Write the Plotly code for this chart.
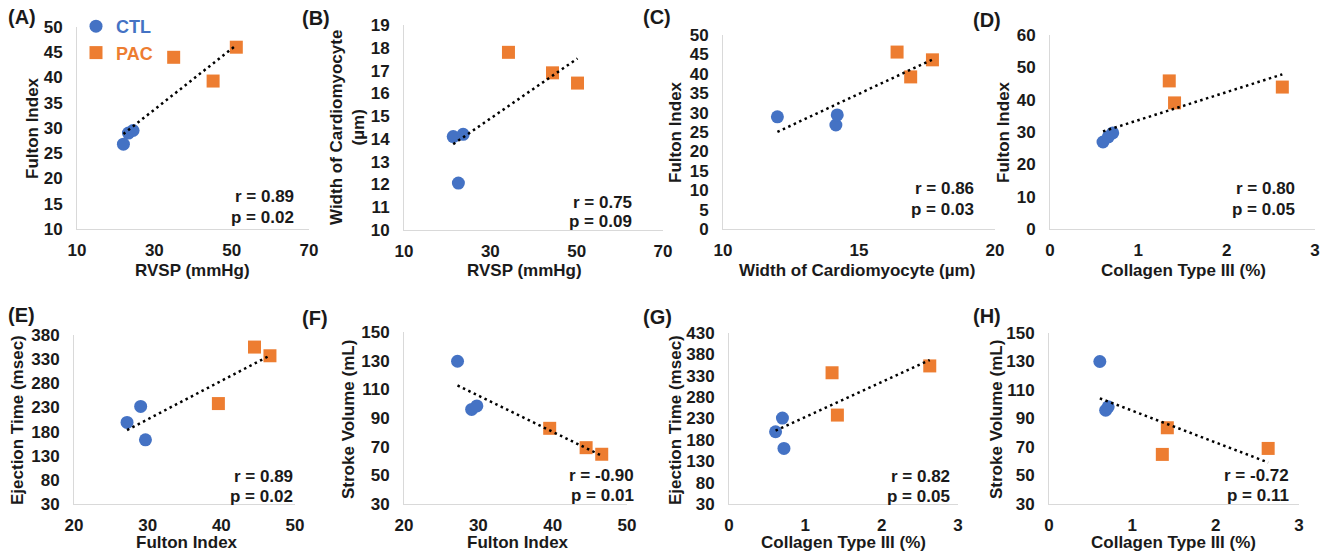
import numpy as np
import plotly.graph_objects as go

W, H = 1328, 554
BLUE = "#4472C4"
ORANGE = "#ED7D31"
FONT = "Liberation Sans, Arial, sans-serif"
TXT = "#1a1a1a"

# ---------------- data ----------------
# (A) RVSP vs Fulton Index
a_ctl_x = [22.0, 23.3, 24.5]
a_ctl_y = [26.8, 29.0, 29.5]
a_pac_x = [35.0, 45.2, 51.2]
a_pac_y = [44.0, 39.3, 46.0]
# (B) RVSP vs Width of Cardiomyocyte
b_ctl_x = [21.4, 23.7, 22.6]
b_ctl_y = [14.1, 14.2, 12.06]
b_pac_x = [34.2, 44.4, 50.2]
b_pac_y = [17.8, 16.9, 16.45]
# (C) Width of Cardiomyocyte vs Fulton Index
c_ctl_x = [12.0, 14.15, 14.2]
c_ctl_y = [28.9, 26.8, 29.4]
c_pac_x = [16.4, 16.9, 17.7]
c_pac_y = [45.6, 39.2, 43.6]
# (D) Collagen Type III vs Fulton Index
d_ctl_x = [0.60, 0.66, 0.71]
d_ctl_y = [26.9, 28.5, 29.7]
d_pac_x = [1.35, 1.41, 2.63]
d_pac_y = [45.8, 39.0, 43.9]
# (E) Fulton Index vs Ejection Time
e_ctl_x = [27.2, 29.05, 29.7]
e_ctl_y = [199, 232, 163]
e_pac_x = [39.6, 44.5, 46.6]
e_pac_y = [238, 355, 337]
# (F) Fulton Index vs Stroke Volume
f_ctl_x = [27.2, 29.1, 29.8]
f_ctl_y = [129.6, 96.0, 98.4]
f_pac_x = [39.6, 44.5, 46.6]
f_pac_y = [82.8, 69.3, 64.7]
# (G) Collagen Type III vs Ejection Time
g_ctl_x = [0.61, 0.70, 0.72]
g_ctl_y = [199, 231, 160]
g_pac_x = [1.35, 1.42, 2.63]
g_pac_y = [337, 238, 353]
# (H) Collagen Type III vs Stroke Volume
h_ctl_x = [0.61, 0.68, 0.71]
h_ctl_y = [130, 95.8, 98.2]
h_pac_x = [1.42, 1.36, 2.63]
h_pac_y = [83.5, 64.8, 69.0]

panel_letters = ["(A)", "(B)", "(C)", "(D)", "(E)", "(F)", "(G)", "(H)"]
x_titles = ["RVSP (mmHg)", "RVSP (mmHg)", "Width of Cardiomyocyte (µm)", "Collagen Type III (%)",
            "Fulton Index", "Fulton Index", "Collagen Type III (%)", "Collagen Type III (%)"]
y_titles = ["Fulton Index", "Width of Cardiomyocyte<br>(µm)", "Fulton Index", "Fulton Index",
            "Ejection Time (msec)", "Stroke Volume (mL)", "Ejection Time (msec)", "Stroke Volume (mL)"]
r_values = ["0.89", "0.75", "0.86", "0.80", "0.89", "-0.90", "0.82", "-0.72"]
p_values = ["0.02", "0.09", "0.03", "0.05", "0.02", "0.01", "0.05", "0.11"]
x_ranges = [(10, 70), (10, 70), (10, 20), (0, 3), (20, 50), (20, 50), (0, 3), (0, 3)]
x_dticks = [20, 20, 5, 1, 10, 10, 1, 1]
y_ranges = [(10, 50), (10, 19), (0, 50), (0, 60), (30, 380), (30, 150), (30, 430), (30, 150)]
y_dticks = [5, 1, 5, 10, 50, 20, 50, 20]

data = [
    (a_ctl_x, a_ctl_y, a_pac_x, a_pac_y),
    (b_ctl_x, b_ctl_y, b_pac_x, b_pac_y),
    (c_ctl_x, c_ctl_y, c_pac_x, c_pac_y),
    (d_ctl_x, d_ctl_y, d_pac_x, d_pac_y),
    (e_ctl_x, e_ctl_y, e_pac_x, e_pac_y),
    (f_ctl_x, f_ctl_y, f_pac_x, f_pac_y),
    (g_ctl_x, g_ctl_y, g_pac_x, g_pac_y),
    (h_ctl_x, h_ctl_y, h_pac_x, h_pac_y),
]

# ---------------- layout geometry (pixels) ----------------
# plot boxes: (left, right, top, bottom)
boxes = [
    (77, 309, 27, 229), (404, 663, 25, 230), (723, 995, 35, 229), (1050, 1315, 35, 229),
    (74, 295, 335, 504), (404, 627, 332, 504), (729, 958, 333, 504), (1049, 1299, 333, 504),
]
letter_pos = [(6, 17), (300, 18), (641, 17), (971, 20), (6, 315), (300, 318), (641, 317), (971, 316)]
ytitle_pos = [(33, 128), (348, 128), (675, 132), (1003, 132), (17, 420), (348, 420), (675, 420), (996, 420)]
xtitle_pos = [(192, 270), (524, 270), (857, 270), (1183, 270), (187, 542), (518, 542), (843, 542), (1173, 542)]
rp_pos = [(296, 197), (634, 202), (976, 189), (1297, 189), (295, 476), (636, 475), (952, 476), (1291, 475)]


def px(x):
    return x / W


def py(y):
    return 1 - y / H


fig = go.Figure()
layout = {}
annotations = []

for i in range(8):
    n = "" if i == 0 else str(i + 1)
    xa, ya = "x" + n, "y" + n
    cx, cy, qx, qy = data[i]
    fig.add_trace(go.Scatter(
        x=cx, y=cy, mode="markers", xaxis=xa, yaxis=ya,
        name=f"<span style='color:{BLUE}'>CTL</span>", legendgroup="ctl", showlegend=(i == 0),
        marker=dict(symbol="circle", size=13, color=BLUE)))
    fig.add_trace(go.Scatter(
        x=qx, y=qy, mode="markers", xaxis=xa, yaxis=ya,
        name=f"<span style='color:{ORANGE}'>PAC</span>", legendgroup="pac", showlegend=(i == 0),
        marker=dict(symbol="square", size=13, color=ORANGE)))
    allx = np.array(cx + qx, dtype=float)
    ally = np.array(cy + qy, dtype=float)
    k, b0 = np.polyfit(allx, ally, 1)
    tx = np.array([allx.min(), allx.max()])
    fig.add_trace(go.Scatter(
        x=tx, y=k * tx + b0, mode="lines", xaxis=xa, yaxis=ya, showlegend=False,
        line=dict(color="black", width=2.5, dash="2.5px,3.5px")))

    l, r, t, bt = boxes[i]
    axis_common = dict(showgrid=False, zeroline=False, showline=True, linecolor="#D9D9D9",
                       linewidth=1, ticks="", mirror=False, automargin=False,
                       tickfont=dict(family=FONT, size=17, color=TXT, weight="bold"))
    layout["xaxis" + n] = dict(axis_common, domain=[px(l), px(r)], anchor=ya,
                               range=list(x_ranges[i]), dtick=x_dticks[i], tick0=x_ranges[i][0],
                               ticklabelstandoff=6)
    layout["yaxis" + n] = dict(axis_common, domain=[py(bt), py(t)], anchor=xa,
                               range=list(y_ranges[i]), dtick=y_dticks[i], tick0=y_ranges[i][0],
                               ticklabelstandoff=10)

    bold = dict(family=FONT, color=TXT, weight="bold")
    annotations.append(dict(text=panel_letters[i], x=px(letter_pos[i][0]), y=py(letter_pos[i][1]),
                            xref="paper", yref="paper", xanchor="left", yanchor="middle",
                            showarrow=False, font=dict(bold, size=20)))
    annotations.append(dict(text=y_titles[i], x=px(ytitle_pos[i][0]), y=py(ytitle_pos[i][1]),
                            xref="paper", yref="paper", xanchor="center", yanchor="middle",
                            textangle=-90, showarrow=False, font=dict(bold, size=17)))
    annotations.append(dict(text=x_titles[i], x=px(xtitle_pos[i][0]), y=py(xtitle_pos[i][1]),
                            xref="paper", yref="paper", xanchor="center", yanchor="middle",
                            showarrow=False, font=dict(bold, size=17)))
    rx, ry = rp_pos[i]
    annotations.append(dict(text=f"r = {r_values[i]}", x=px(rx), y=py(ry),
                            xref="paper", yref="paper", xanchor="right", yanchor="middle",
                            showarrow=False, font=dict(bold, size=17)))
    annotations.append(dict(text=f"p = {p_values[i]}", x=px(rx), y=py(ry + 20),
                            xref="paper", yref="paper", xanchor="right", yanchor="middle",
                            showarrow=False, font=dict(bold, size=17)))

fig.update_layout(**layout)
fig.update_layout(
    width=W, height=H, margin=dict(l=0, r=0, t=0, b=0, autoexpand=False),
    paper_bgcolor="white", plot_bgcolor="white",
    annotations=annotations,
    legend=dict(x=px(76), y=py(8), xanchor="left", yanchor="top",
                bgcolor="rgba(0,0,0,0)", borderwidth=0, tracegroupgap=0,
                itemwidth=30,
                font=dict(family=FONT, size=18, weight="bold")),
)

fig.write_html("out.html", config={"displayModeBar": False},
               post_script="document.body.style.margin='0';document.body.style.overflow='hidden';")
